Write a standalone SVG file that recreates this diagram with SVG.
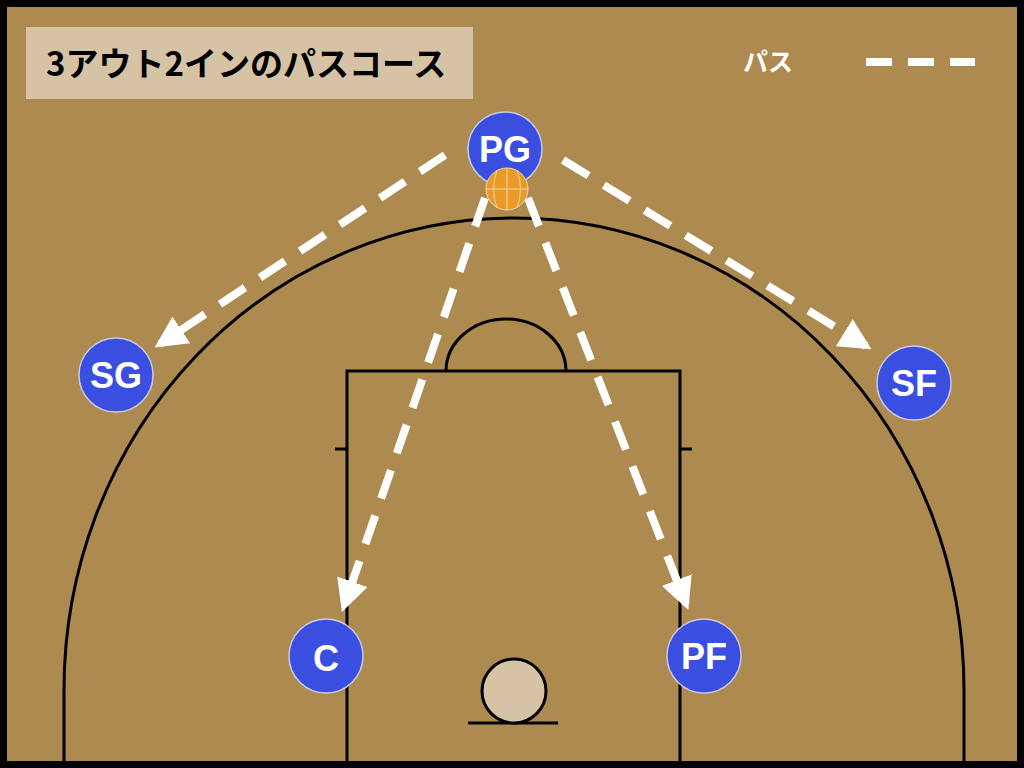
<svg xmlns="http://www.w3.org/2000/svg" width="1024" height="768" viewBox="0 0 1024 768">
<defs>
<style>
.p{fill:#3a4ee0;stroke:#c9cce8;stroke-width:1.5}
.pt{fill:#fff;font-family:"Liberation Sans",Arial,sans-serif;font-weight:bold;font-size:36px;text-anchor:middle}
.ln{fill:none;stroke:#000;stroke-width:3}
.pass{fill:none;stroke:#fff;stroke-width:8;stroke-dasharray:30 18}
</style>
<marker id="ah" viewBox="0 0 10 10" refX="8" refY="5" markerWidth="4" markerHeight="4" orient="auto" markerUnits="strokeWidth">
<path d="M0,0 L10,5 L0,10 z" fill="#fff"/>
</marker>
</defs>
<rect x="0" y="0" width="1024" height="768" fill="#000"/>
<rect x="7" y="7" width="1010" height="754" fill="#ad8a4f"/>
<g id="court">
<path class="ln" d="M64,768 L64,690 A450,472 0 0 1 964,690 L964,768"/>
<path class="ln" d="M347,768 V371 H680 V768"/>
<path class="ln" d="M446,371 A60,52 0 0 1 566,371"/>
<path class="ln" d="M335,449 H347 M680,449 H692"/>
<line class="ln" x1="468" y1="723" x2="558" y2="723"/>
<circle cx="514" cy="691" r="32" fill="#d6c3a5" stroke="#000" stroke-width="3"/>
</g>
<g id="title">
<rect x="26" y="27" width="447" height="72" fill="#d6c3a5"/>
<text x="46" y="76" font-family="'Noto Sans CJK JP',sans-serif" font-weight="bold" font-size="33" fill="#000">3アウト2インのパスコース</text>
</g>
<g id="legend">
<text x="768" y="71" text-anchor="middle" font-family="'Noto Sans CJK JP',sans-serif" font-weight="bold" font-size="25" fill="#fff">パス</text>
<line x1="866" y1="62" x2="975" y2="62" stroke="#fff" stroke-width="8" stroke-dasharray="26 16"/>
</g>
<g id="connectors">
<line class="pass" x1="445" y1="155" x2="160" y2="344" marker-end="url(#ah)"/>
<line class="pass" x1="563" y1="160" x2="866" y2="346" marker-end="url(#ah)"/>
<line class="pass" x1="485" y1="198" x2="344" y2="606" marker-end="url(#ah)"/>
<line class="pass" x1="528" y1="198" x2="686" y2="604" marker-end="url(#ah)"/>
</g>
<g id="PG"><circle class="p" cx="505" cy="149" r="37"/><text class="pt" x="505" y="162">PG</text></g>
<g id="ball">
<circle cx="507" cy="189" r="21" fill="#e99a28" stroke="#f3d7a8" stroke-width="1"/>
<path d="M486,189 H528 M507,168 V210 M497,170 Q490,189 497,208 M517,170 Q524,189 517,208" fill="none" stroke="#f3d7a8" stroke-width="1"/>
</g>
<g id="SG"><circle class="p" cx="116" cy="375" r="37"/><text class="pt" x="116" y="388">SG</text></g>
<g id="SF"><circle class="p" cx="914" cy="383" r="37"/><text class="pt" x="914" y="396">SF</text></g>
<g id="C"><circle class="p" cx="326" cy="656" r="37"/><text class="pt" x="326" y="671" font-size="42">C</text></g>
<g id="PF"><circle class="p" cx="704" cy="656" r="37"/><text class="pt" x="704" y="669">PF</text></g>
</svg>
